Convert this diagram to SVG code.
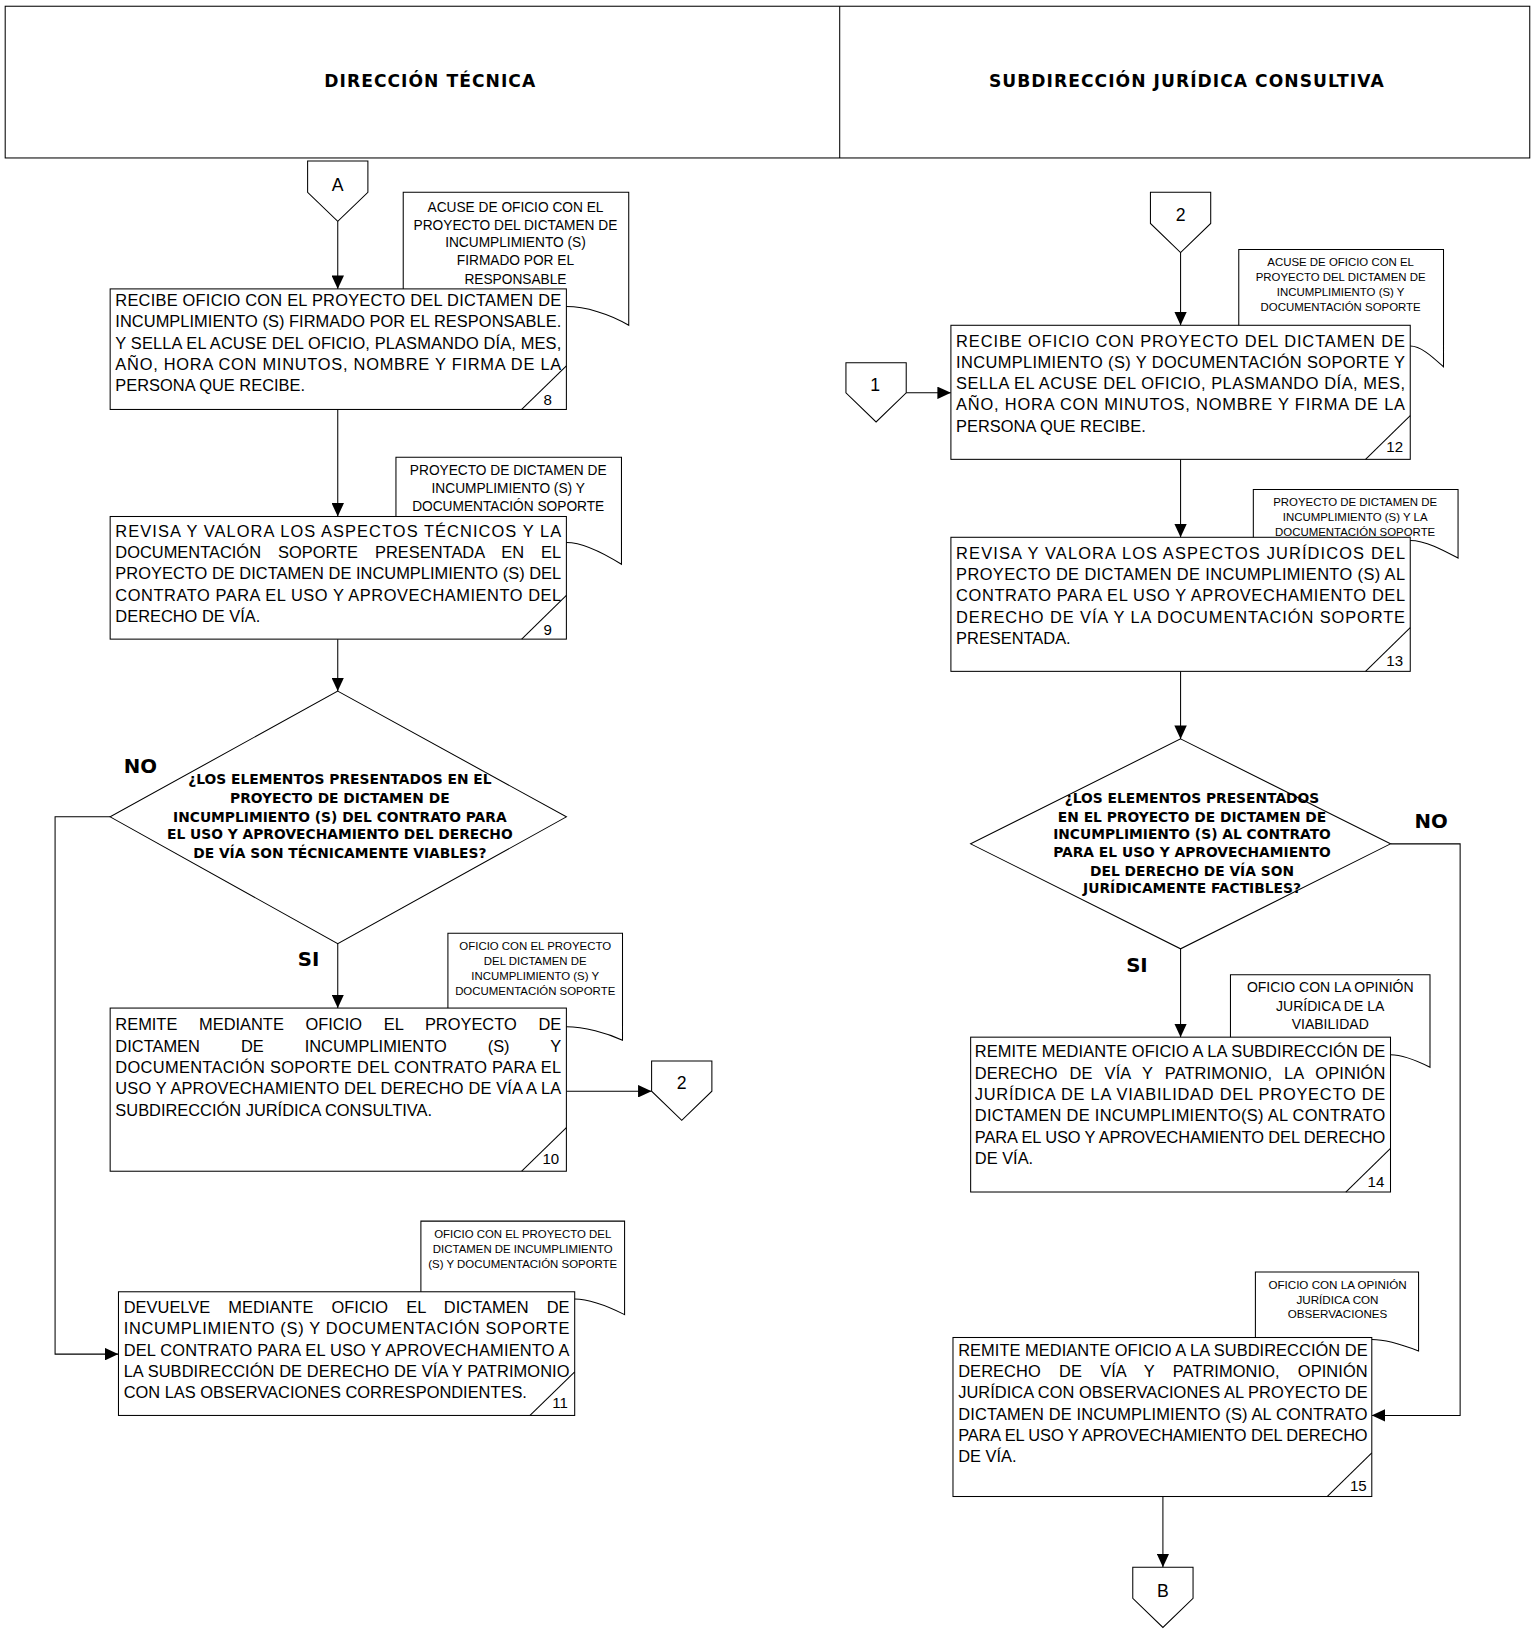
<svg xmlns="http://www.w3.org/2000/svg" width="1536" height="1630" viewBox="0 0 1536 1630">
<style>
.ln{fill:none;stroke:#000;stroke-width:1}
.bx{fill:#fff;stroke:#000;stroke-width:1}
.nt{fill:#fff;stroke:#000;stroke-width:1}
.t{font-family:"Liberation Sans",Arial,sans-serif;font-size:15.8px;fill:#000}
.nn{font-family:"Liberation Sans",Arial,sans-serif;font-size:14.5px;fill:#000;text-anchor:middle}
.s13{font-family:"Liberation Sans",Arial,sans-serif;font-size:13.2px;fill:#000;text-anchor:middle}
.s11{font-family:"Liberation Sans",Arial,sans-serif;font-size:11px;fill:#000;text-anchor:middle}
.d{font-family:"DejaVu Sans",Verdana,sans-serif;font-weight:bold;font-size:13.3px;fill:#000;text-anchor:middle}
.h{font-family:"DejaVu Sans",Verdana,sans-serif;font-weight:bold;font-size:16.5px;letter-spacing:1px;fill:#000;text-anchor:middle}
.lb{font-family:"DejaVu Sans",Verdana,sans-serif;font-weight:bold;font-size:19px;fill:#000;text-anchor:middle}
.cl{font-family:"Liberation Sans",Arial,sans-serif;font-size:17px;fill:#000;text-anchor:middle}
</style>
<defs>
<marker id="ar" markerUnits="userSpaceOnUse" markerWidth="13" markerHeight="12" refX="13" refY="6" orient="auto">
<path d="M0,0 L13,6 L0,12 Z" fill="#000"/>
</marker>
</defs>
<g transform="scale(1.03924)">
<g id="header">
<rect class="bx" x="5" y="6" width="1467" height="146"/>
<line class="ln" x1="808" y1="6" x2="808" y2="152"/>
<text class="h" x="414" y="84">DIRECCIÓN TÉCNICA</text>
<text class="h" x="1142" y="84">SUBDIRECCIÓN JURÍDICA CONSULTIVA</text>
</g>
<g id="connectors">
<line class="ln" x1="325" y1="213" x2="325" y2="278" marker-end="url(#ar)"/>
<line class="ln" x1="325" y1="394" x2="325" y2="497" marker-end="url(#ar)"/>
<line class="ln" x1="325" y1="615" x2="325" y2="665" marker-end="url(#ar)"/>
<line class="ln" x1="325" y1="908" x2="325" y2="970" marker-end="url(#ar)"/>
<polyline class="ln" points="106,786 53,786 53,1303 114,1303" marker-end="url(#ar)"/>
<line class="ln" x1="545" y1="1050" x2="627" y2="1050" marker-end="url(#ar)"/>
<line class="ln" x1="1136" y1="243" x2="1136" y2="313" marker-end="url(#ar)"/>
<line class="ln" x1="872" y1="378" x2="915" y2="378" marker-end="url(#ar)"/>
<line class="ln" x1="1136" y1="442" x2="1136" y2="517" marker-end="url(#ar)"/>
<line class="ln" x1="1136" y1="646" x2="1136" y2="711" marker-end="url(#ar)"/>
<line class="ln" x1="1136" y1="913" x2="1136" y2="998" marker-end="url(#ar)"/>
<polyline class="ln" points="1338,812 1405,812 1405,1362 1320,1362" marker-end="url(#ar)"/>
<line class="ln" x1="1119" y1="1440" x2="1119" y2="1508" marker-end="url(#ar)"/>
</g>
<g id="conA">
<path class="bx" d="M296,155 H354 V185 L325,213 L296,185 Z"/>
<text class="cl" x="325" y="184">A</text>
</g>
<g id="note8">
<path class="nt" d="M388,295 V185 H605 V313 C587,302 563,295 545,295 Z"/>
<text class="s13" x="496" y="204">ACUSE DE OFICIO CON EL</text>
<text class="s13" x="496" y="221">PROYECTO DEL DICTAMEN DE</text>
<text class="s13" x="496" y="238">INCUMPLIMIENTO (S)</text>
<text class="s13" x="496" y="255">FIRMADO POR EL</text>
<text class="s13" x="496" y="273">RESPONSABLE</text>
</g>
<g id="box8">
<rect class="bx" x="106" y="278" width="439" height="116"/>
<text class="t" x="111" y="294.5" textLength="429" lengthAdjust="spacing">RECIBE OFICIO CON EL PROYECTO DEL DICTAMEN DE</text>
<text class="t" x="111" y="315" textLength="429" lengthAdjust="spacing">INCUMPLIMIENTO (S) FIRMADO POR EL RESPONSABLE.</text>
<text class="t" x="111" y="335.5" textLength="429" lengthAdjust="spacing">Y SELLA EL ACUSE DEL OFICIO, PLASMANDO DÍA, MES,</text>
<text class="t" x="111" y="356" textLength="429" lengthAdjust="spacing">AÑO, HORA CON MINUTOS, NOMBRE Y FIRMA DE LA</text>
<text class="t" x="111" y="376.5">PERSONA QUE RECIBE.</text>
<line class="ln" x1="502" y1="394" x2="545" y2="352"/>
<text class="nn" x="527" y="390">8</text>
</g>
<g id="note9">
<path class="nt" d="M381,522 V440 H598 V543 C582,533 561,522 545,522 Z"/>
<text class="s13" x="489" y="457.5">PROYECTO DE DICTAMEN DE</text>
<text class="s13" x="489" y="474.5">INCUMPLIMIENTO (S) Y</text>
<text class="s13" x="489" y="491.5">DOCUMENTACIÓN SOPORTE</text>
</g>
<g id="box9">
<rect class="bx" x="106" y="497" width="439" height="118"/>
<text class="t" x="111" y="516.5" textLength="429" lengthAdjust="spacing">REVISA Y VALORA LOS ASPECTOS TÉCNICOS Y LA</text>
<text class="t" x="111" y="537" textLength="429" lengthAdjust="spacing" word-spacing="12">DOCUMENTACIÓN SOPORTE PRESENTADA EN EL</text>
<text class="t" x="111" y="557.5" textLength="429" lengthAdjust="spacing">PROYECTO DE DICTAMEN DE INCUMPLIMIENTO (S) DEL</text>
<text class="t" x="111" y="578" textLength="429" lengthAdjust="spacing">CONTRATO PARA EL USO Y APROVECHAMIENTO DEL</text>
<text class="t" x="111" y="598.5">DERECHO DE VÍA.</text>
<line class="ln" x1="502" y1="615" x2="545" y2="573"/>
<text class="nn" x="527" y="611">9</text>
</g>
<g id="dec1">
<path class="bx" d="M325,665 L545,786 L325,908 L106,786 Z"/>
<text class="d" x="327" y="754.5">¿LOS ELEMENTOS PRESENTADOS EN EL</text>
<text class="d" x="327" y="772.5">PROYECTO DE DICTAMEN DE</text>
<text class="d" x="327" y="790.5">INCUMPLIMIENTO (S) DEL CONTRATO PARA</text>
<text class="d" x="327" y="807.5">EL USO Y APROVECHAMIENTO DEL DERECHO</text>
<text class="d" x="327" y="825.5">DE VÍA SON TÉCNICAMENTE VIABLES?</text>
</g>
<text class="lb" x="135" y="744">NO</text>
<text class="lb" x="297" y="930">SI</text>
<g id="note10">
<path class="nt" d="M431,988 V898 H599 V1001 C584,994 562,988 545,988 Z"/>
<text class="s11" x="515" y="914">OFICIO CON EL PROYECTO</text>
<text class="s11" x="515" y="928.5">DEL DICTAMEN DE</text>
<text class="s11" x="515" y="943">INCUMPLIMIENTO (S) Y</text>
<text class="s11" x="515" y="957.5">DOCUMENTACIÓN SOPORTE</text>
</g>
<g id="box10">
<rect class="bx" x="106" y="970" width="439" height="157"/>
<text class="t" x="111" y="991.5" textLength="429" lengthAdjust="spacing" word-spacing="16.5">REMITE MEDIANTE OFICIO EL PROYECTO DE</text>
<text class="t" x="111" y="1012" textLength="429" lengthAdjust="spacing" word-spacing="35">DICTAMEN DE INCUMPLIMIENTO (S) Y</text>
<text class="t" x="111" y="1032.5" textLength="429" lengthAdjust="spacing">DOCUMENTACIÓN SOPORTE DEL CONTRATO PARA EL</text>
<text class="t" x="111" y="1053" textLength="429" lengthAdjust="spacing">USO Y APROVECHAMIENTO DEL DERECHO DE VÍA A LA</text>
<text class="t" x="111" y="1073.5">SUBDIRECCIÓN JURÍDICA CONSULTIVA.</text>
<line class="ln" x1="502" y1="1127" x2="545" y2="1085"/>
<text class="nn" x="530" y="1120">10</text>
</g>
<g id="con2a">
<path class="bx" d="M627,1021 H685 V1050 L656,1078 L627,1050 Z"/>
<text class="cl" x="656" y="1048">2</text>
</g>
<g id="note11">
<path class="nt" d="M405,1250 V1175 H601 V1265 C587,1258 567,1250 553,1250 Z"/>
<text class="s11" x="503" y="1191">OFICIO CON EL PROYECTO DEL</text>
<text class="s11" x="503" y="1205.5">DICTAMEN DE INCUMPLIMIENTO</text>
<text class="s11" x="503" y="1220">(S) Y DOCUMENTACIÓN SOPORTE</text>
</g>
<g id="box11">
<rect class="bx" x="114" y="1243" width="439" height="119"/>
<text class="t" x="119" y="1263.5" textLength="429" lengthAdjust="spacing" word-spacing="13">DEVUELVE MEDIANTE OFICIO EL DICTAMEN DE</text>
<text class="t" x="119" y="1284" textLength="429" lengthAdjust="spacing">INCUMPLIMIENTO (S) Y DOCUMENTACIÓN SOPORTE</text>
<text class="t" x="119" y="1304.5" textLength="429" lengthAdjust="spacing">DEL CONTRATO PARA EL USO Y APROVECHAMIENTO A</text>
<text class="t" x="119" y="1325" textLength="429" lengthAdjust="spacing">LA SUBDIRECCIÓN DE DERECHO DE VÍA Y PATRIMONIO</text>
<text class="t" x="119" y="1345.5">CON LAS OBSERVACIONES CORRESPONDIENTES.</text>
<line class="ln" x1="510" y1="1362" x2="553" y2="1320"/>
<text class="nn" x="539" y="1355">11</text>
</g>
<g id="con2b">
<path class="bx" d="M1107,185 H1165 V215 L1136,243 L1107,215 Z"/>
<text class="cl" x="1136" y="213">2</text>
</g>
<g id="con1">
<path class="bx" d="M814,349 H872 V378 L843,406 L814,378 Z"/>
<text class="cl" x="842" y="376">1</text>
</g>
<g id="note12">
<path class="nt" d="M1192,333 V240 H1389 V353 C1380,345 1368,333 1357,333 Z"/>
<text class="s11" x="1290" y="256">ACUSE DE OFICIO CON EL</text>
<text class="s11" x="1290" y="270.5">PROYECTO DEL DICTAMEN DE</text>
<text class="s11" x="1290" y="285">INCUMPLIMIENTO (S) Y</text>
<text class="s11" x="1290" y="299.5">DOCUMENTACIÓN SOPORTE</text>
</g>
<g id="box12">
<rect class="bx" x="915" y="313" width="442" height="129"/>
<text class="t" x="920" y="333.5" textLength="432" lengthAdjust="spacing">RECIBE OFICIO CON PROYECTO DEL DICTAMEN DE</text>
<text class="t" x="920" y="354" textLength="432" lengthAdjust="spacing">INCUMPLIMIENTO (S) Y DOCUMENTACIÓN SOPORTE Y</text>
<text class="t" x="920" y="374.5" textLength="432" lengthAdjust="spacing">SELLA EL ACUSE DEL OFICIO, PLASMANDO DÍA, MES,</text>
<text class="t" x="920" y="395" textLength="432" lengthAdjust="spacing">AÑO, HORA CON MINUTOS, NOMBRE Y FIRMA DE LA</text>
<text class="t" x="920" y="415.5">PERSONA QUE RECIBE.</text>
<line class="ln" x1="1314" y1="442" x2="1357" y2="400"/>
<text class="nn" x="1342" y="435">12</text>
</g>
<g id="note13">
<path class="nt" d="M1206,520 V471 H1403 V537 C1390,530 1372,520 1357,520 Z"/>
<text class="s11" x="1304" y="487">PROYECTO DE DICTAMEN DE</text>
<text class="s11" x="1304" y="501.5">INCUMPLIMIENTO (S) Y LA</text>
<text class="s11" x="1304" y="516">DOCUMENTACIÓN SOPORTE</text>
</g>
<g id="box13">
<rect class="bx" x="915" y="517" width="442" height="129"/>
<text class="t" x="920" y="537.5" textLength="432" lengthAdjust="spacing">REVISA Y VALORA LOS ASPECTOS JURÍDICOS DEL</text>
<text class="t" x="920" y="558" textLength="432" lengthAdjust="spacing">PROYECTO DE DICTAMEN DE INCUMPLIMIENTO (S) AL</text>
<text class="t" x="920" y="578.5" textLength="432" lengthAdjust="spacing">CONTRATO PARA EL USO Y APROVECHAMIENTO DEL</text>
<text class="t" x="920" y="599" textLength="432" lengthAdjust="spacing">DERECHO DE VÍA Y LA DOCUMENTACIÓN SOPORTE</text>
<text class="t" x="920" y="619.5">PRESENTADA.</text>
<line class="ln" x1="1314" y1="646" x2="1357" y2="604"/>
<text class="nn" x="1342" y="641">13</text>
</g>
<g id="dec2">
<path class="bx" d="M1136,711 L1338,812 L1136,913 L934,812 Z"/>
<text class="d" x="1147" y="772.5">¿LOS ELEMENTOS PRESENTADOS</text>
<text class="d" x="1147" y="790.5">EN EL PROYECTO DE DICTAMEN DE</text>
<text class="d" x="1147" y="807.5">INCUMPLIMIENTO (S) AL CONTRATO</text>
<text class="d" x="1147" y="824.5">PARA EL USO Y APROVECHAMIENTO</text>
<text class="d" x="1147" y="842.5">DEL DERECHO DE VÍA SON</text>
<text class="d" x="1147" y="859.5">JURÍDICAMENTE FACTIBLES?</text>
</g>
<text class="lb" x="1377" y="797">NO</text>
<text class="lb" x="1094" y="935">SI</text>
<g id="note14">
<path class="nt" d="M1184,1015 V938 H1376 V1027 C1366,1022 1350,1015 1338,1015 Z"/>
<text class="s13" x="1280" y="955" style="font-size:13.5px">OFICIO CON LA OPINIÓN</text>
<text class="s13" x="1280" y="973" style="font-size:13.5px">JURÍDICA DE LA</text>
<text class="s13" x="1280" y="990" style="font-size:13.5px">VIABILIDAD</text>
</g>
<g id="box14">
<rect class="bx" x="934" y="998" width="404" height="149"/>
<text class="t" x="938" y="1017.5" textLength="395" lengthAdjust="spacing">REMITE MEDIANTE OFICIO A LA SUBDIRECCIÓN DE</text>
<text class="t" x="938" y="1038" textLength="395" lengthAdjust="spacing" word-spacing="7">DERECHO DE VÍA Y PATRIMONIO, LA OPINIÓN</text>
<text class="t" x="938" y="1058.5" textLength="395" lengthAdjust="spacing">JURÍDICA DE LA VIABILIDAD DEL PROYECTO DE</text>
<text class="t" x="938" y="1079" textLength="395" lengthAdjust="spacing">DICTAMEN DE INCUMPLIMIENTO(S) AL CONTRATO</text>
<text class="t" x="938" y="1099.5" textLength="395" lengthAdjust="spacing">PARA EL USO Y APROVECHAMIENTO DEL DERECHO</text>
<text class="t" x="938" y="1120">DE VÍA.</text>
<line class="ln" x1="1295" y1="1147" x2="1338" y2="1105"/>
<text class="nn" x="1324" y="1142">14</text>
</g>
<g id="note15">
<path class="nt" d="M1208,1289 V1224 H1365 V1300 C1352,1295 1334,1289 1320,1289 Z"/>
<text class="s11" x="1287" y="1240" style="font-size:11.2px">OFICIO CON LA OPINIÓN</text>
<text class="s11" x="1287" y="1254.5" style="font-size:11.2px">JURÍDICA CON</text>
<text class="s11" x="1287" y="1268.5" style="font-size:11.2px">OBSERVACIONES</text>
</g>
<g id="box15">
<rect class="bx" x="917" y="1287" width="403" height="153"/>
<text class="t" x="922" y="1304.5" textLength="394" lengthAdjust="spacing">REMITE MEDIANTE OFICIO A LA SUBDIRECCIÓN DE</text>
<text class="t" x="922" y="1325" textLength="394" lengthAdjust="spacing" word-spacing="13">DERECHO DE VÍA Y PATRIMONIO, OPINIÓN</text>
<text class="t" x="922" y="1345.5" textLength="394" lengthAdjust="spacing">JURÍDICA CON OBSERVACIONES AL PROYECTO DE</text>
<text class="t" x="922" y="1366" textLength="394" lengthAdjust="spacing">DICTAMEN DE INCUMPLIMIENTO (S) AL CONTRATO</text>
<text class="t" x="922" y="1386.5" textLength="394" lengthAdjust="spacing">PARA EL USO Y APROVECHAMIENTO DEL DERECHO</text>
<text class="t" x="922" y="1407">DE VÍA.</text>
<line class="ln" x1="1277" y1="1440" x2="1320" y2="1398"/>
<text class="nn" x="1307" y="1435">15</text>
</g>
<g id="conB">
<path class="bx" d="M1090,1508 H1148 V1538 L1119,1566 L1090,1538 Z"/>
<text class="cl" x="1119" y="1537">B</text>
</g>
</g>
</svg>
